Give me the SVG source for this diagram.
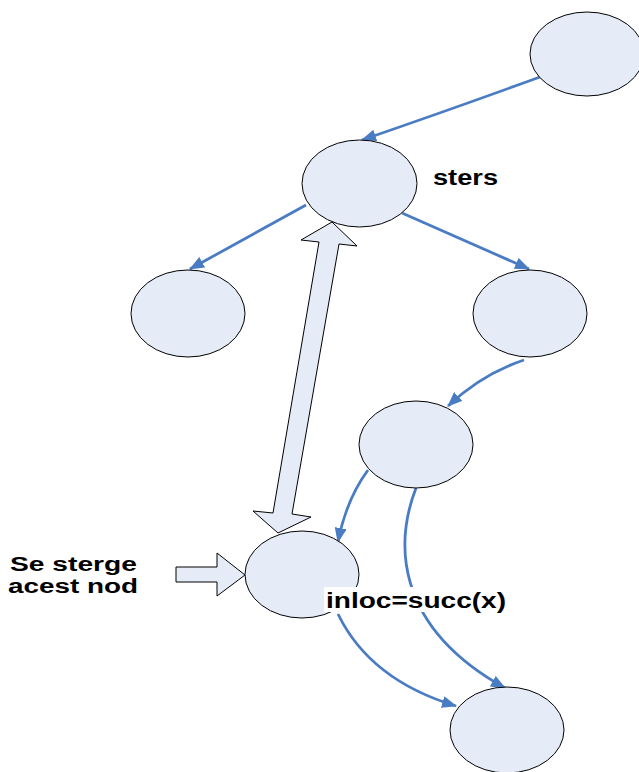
<svg xmlns="http://www.w3.org/2000/svg" width="639" height="772" viewBox="0 0 639 772">
  <style>
    .node { fill: #E6ECF7; stroke: #000; stroke-width: 1; }
    .edge { fill: none; stroke: #4A7CC4; stroke-width: 2.8; marker-end: url(#tip); }
    .block { fill: #E6ECF7; stroke: #000; stroke-width: 1; stroke-linejoin: miter; }
    .lbl { font-family: "Liberation Sans", Arial, sans-serif; font-weight: bold; font-size: 22px; fill: #000; }
  </style>
  <defs>
    <marker id="tip" viewBox="0 0 15 12" refX="14" refY="6" markerWidth="15" markerHeight="12" markerUnits="userSpaceOnUse" orient="auto">
      <path d="M0,0 L15,6 L0,12 Z" fill="#4A7CC4"/>
    </marker>
  </defs>
  <rect width="639" height="772" fill="#fff"/>

  <g id="connectors">
    <path class="edge" d="M540,77 Q455,108 362,140"/>
    <path class="edge" d="M306,205 L190,269"/>
    <path class="edge" d="M402,213 L529,269"/>
    <path class="edge" d="M524,360 Q482,374 448,406"/>
    <path class="edge" d="M368,470 Q346,500 338,542"/>
    <path class="edge" d="M416,488 C396,540 392,625 505,688"/>
    <path class="edge" d="M338,614 Q370,680 456,706"/>
  </g>

  <g id="node-root"><ellipse class="node" cx="587" cy="54" rx="57" ry="42"/></g>
  <g id="node-sters"><ellipse class="node" cx="359.5" cy="183.5" rx="57.5" ry="43.5"/></g>
  <g id="node-left"><ellipse class="node" cx="188" cy="313.5" rx="57" ry="43.5"/></g>
  <g id="node-right"><ellipse class="node" cx="530" cy="313.5" rx="57" ry="43.5"/></g>
  <g id="node-middle"><ellipse class="node" cx="416" cy="444.5" rx="57" ry="43.5"/></g>
  <g id="node-deleted"><ellipse class="node" cx="302" cy="574.5" rx="57" ry="43.5"/></g>
  <g id="node-bottom"><ellipse class="node" cx="507" cy="730" rx="57" ry="43"/></g>

  <g id="swap-arrow">
    <polygon class="block" points="332,222 357,246 339,244 292,514 311,517 278,533 253,511 273,513 319,242 301,240"/>
  </g>
  <g id="pointer-arrow">
    <polygon class="block" points="176,567 217,567 217,553 245,575 217,596 217,582 176,582"/>
  </g>

  <g id="labels">
    <text class="lbl" x="433" y="185" textLength="65" lengthAdjust="spacingAndGlyphs">sters</text>
    <text class="lbl" style="font-size:20px">
      <tspan x="10" y="571" textLength="127" lengthAdjust="spacingAndGlyphs">Se sterge</tspan>
      <tspan x="8" y="593" textLength="130" lengthAdjust="spacingAndGlyphs">acest nod</tspan>
    </text>
    <rect x="324" y="587" width="186" height="25" fill="#fff"/>
    <text class="lbl" x="326" y="608" textLength="180" lengthAdjust="spacingAndGlyphs">inloc=succ(x)</text>
  </g>
</svg>
